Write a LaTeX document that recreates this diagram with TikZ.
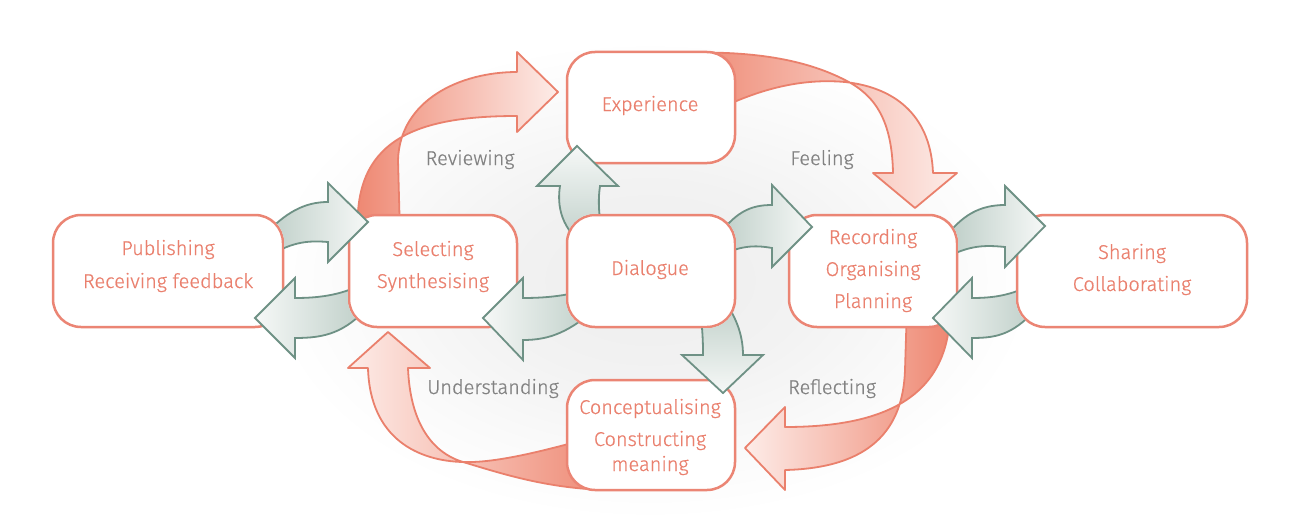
\documentclass[tikz,border=0pt]{standalone}
\usepackage{fontspec}
\setmainfont{Fira Sans Light}[FakeBold=0.6]
\definecolor{salDark}{RGB}{238,134,112}
\definecolor{salLight}{RGB}{253,236,232}
\definecolor{salLine}{RGB}{234,128,108}
\definecolor{boxLine}{RGB}{235,133,116}
\definecolor{salText}{RGB}{234,128,110}
\definecolor{grayText}{RGB}{130,130,130}
\definecolor{gDark}{RGB}{188,205,198}
\definecolor{gLight}{RGB}{246,248,247}
\definecolor{gLine}{RGB}{110,145,133}
\pgfdeclareradialshading{bgsoft}{\pgfpoint{0bp}{0bp}}{color(0bp)=(black!7); color(10bp)=(black!5); color(18bp)=(black!2); color(24bp)=(white); color(50bp)=(white)}
\begin{document}
\begin{tikzpicture}[x=1pt,y=-1pt,
  salarrow/.style={draw=salLine, line width=1.8pt, line join=round},
  garrow/.style={draw=gLine, line width=1.8pt, line join=miter},
  box/.style={draw=boxLine, line width=2.5pt, fill=white, rounded corners=28pt, inner sep=0pt},
  btxt/.style={text=salText, font=\fontsize{20}{24}\selectfont, text height=14pt, text depth=0pt, inner sep=0pt},
  gtxt/.style={text=grayText, font=\fontsize{20}{24}\selectfont, text height=14pt, text depth=0pt, inner sep=0pt}]
\useasboundingbox (0,0) rectangle (1300,519);
\fill[white] (0,0) rectangle (1300,519);
% soft background
\path[shading=bgsoft] (650,280) ellipse [x radius=400pt, y radius=250pt];

% salmon arrows
\path[salarrow, left color=salDark, right color=salLight] (358,235) .. controls (352,140) and (415,116) .. (517,116) -- (517,132) -- (558,92) -- (517,52) -- (517,72) .. controls (460,72) and (400,100) .. (398,160) -- (400,235) -- cycle;
\path[salarrow, left color=salDark, right color=salLight] (680,53) .. controls (760,50) and (810,62) .. (845,80) .. controls (875,95) and (892,120) .. (893,173) -- (873,173) -- (915,208) -- (957,173) -- (933,173) .. controls (931,120) and (900,88) .. (845,82) .. controls (800,78) and (760,90) .. (725,106) -- cycle;
\path[salarrow, left color=salLight, right color=salDark] (950,305) .. controls (952,400) and (880,427) .. (785,427) -- (785,407) -- (745,448) -- (785,490) -- (785,470) .. controls (870,468) and (903,430) .. (905,370) -- (907,305) -- cycle;
\path[salarrow, left color=salLight, right color=salDark] (590,438) .. controls (530,455) and (490,463) .. (463,462) .. controls (420,461) and (370,440) .. (368,368) -- (348,368) -- (388,332) -- (430,368) -- (408,368) .. controls (410,420) and (430,452) .. (463,462) .. controls (500,473) and (550,490) .. (615,490) -- cycle;

% boxes
\node[box, minimum width=168pt, minimum height=111pt] (exp) at (651,107.5) {};
\node[box, minimum width=230pt, minimum height=112pt] (pub) at (168,271) {};
\node[box, minimum width=168pt, minimum height=112pt] (sel) at (433,271) {};
\node[box, minimum width=168pt, minimum height=112pt] (dia) at (651,271) {};
\node[box, minimum width=168pt, minimum height=112pt] (rec) at (873,271) {};
\node[box, minimum width=230pt, minimum height=112pt] (sha) at (1132,271) {};
\node[box, minimum width=168pt, minimum height=110pt] (con) at (651,435) {};

% green arrows from Dialogue
\begin{scope}
\clip (-10,-10) -- (1310,-10) -- (1310,530) -- (-10,530) -- cycle [rounded corners=29pt] (565.8,271) -- (565.8,328.2) -- (736.2,328.2) -- (736.2,213.8) -- (565.8,213.8) -- cycle;
\path[garrow, top color=gLight, bottom color=gDark] (590,250) .. controls (560,230) and (557,205) .. (560,186) -- (537,186) -- (577,146) -- (618,186) -- (600,186) .. controls (598,200) and (598,215) .. (605,250) -- cycle;
\path[garrow, left color=gDark, right color=gLight] (715,240) .. controls (735,212) and (750,205) .. (772,205) -- (772,185) -- (812,227) -- (772,267) -- (772,248) .. controls (755,245) and (740,245) .. (715,258) -- cycle;
\path[garrow, top color=gDark, bottom color=gLight] (698,300) .. controls (703,325) and (703,345) .. (703,355) -- (682,355) -- (723,393) -- (763,355) -- (743,355) .. controls (743,335) and (736,315) .. (720,295) -- cycle;
\path[garrow, left color=gLight, right color=gDark] (600,285) .. controls (575,295) and (550,298) .. (523,298) -- (523,278) -- (483,318) -- (523,360) -- (523,340) .. controls (550,340) and (570,332) .. (600,305) -- cycle;
\end{scope}
% Publishing -> Selecting
\begin{scope}
\clip (-10,-10) -- (1310,-10) -- (1310,530) -- (-10,530) -- cycle [rounded corners=29pt] (51.8,271) -- (51.8,328.2) -- (284.2,328.2) -- (284.2,213.8) -- (51.8,213.8) -- cycle;
\path[garrow, left color=gDark, right color=gLight] (262,238) .. controls (285,212) and (305,202) .. (328,202) -- (328,183) -- (368,222) -- (328,262) -- (328,242) .. controls (305,240) and (290,243) .. (265,258) -- cycle;
\end{scope}
% Selecting -> Publishing
\begin{scope}
\clip (-10,-10) -- (1310,-10) -- (1310,530) -- (-10,530) -- cycle [rounded corners=29pt] (347.8,271) -- (347.8,328.2) -- (518.2,328.2) -- (518.2,213.8) -- (347.8,213.8) -- cycle;
\path[garrow, left color=gLight, right color=gDark] (370,280) .. controls (345,295) and (320,298) .. (295,298) -- (295,278) -- (255,318) -- (295,358) -- (295,338) .. controls (325,338) and (345,333) .. (370,305) -- cycle;
\end{scope}
% Recording -> Sharing
\begin{scope}
\clip (-10,-10) -- (1310,-10) -- (1310,530) -- (-10,530) -- cycle [rounded corners=29pt] (787.8,271) -- (787.8,328.2) -- (958.2,328.2) -- (958.2,213.8) -- (787.8,213.8) -- cycle;
\path[garrow, left color=gDark, right color=gLight] (945,238) .. controls (962,215) and (980,205) .. (1005,205) -- (1005,186) -- (1045,226) -- (1005,267) -- (1005,247) .. controls (985,245) and (970,245) .. (945,258) -- cycle;
\end{scope}
% Sharing -> Recording
\begin{scope}
\clip (-10,-10) -- (1310,-10) -- (1310,530) -- (-10,530) -- cycle [rounded corners=29pt] (1015.8,271) -- (1015.8,328.2) -- (1248.2,328.2) -- (1248.2,213.8) -- (1015.8,213.8) -- cycle;
\path[garrow, left color=gLight, right color=gDark] (1040,280) .. controls (1015,295) and (995,298) .. (972,298) -- (972,278) -- (933,318) -- (972,358) -- (972,338) .. controls (1000,338) and (1015,333) .. (1040,305) -- cycle;
\end{scope}

% texts
\node[btxt] (t-exp) at (650,104) {Experience};
\node[btxt] (t-pub1) at (168,248) {Publishing};
\node[btxt] (t-pub2) at (168,281) {Receiving feedback};
\node[btxt] (t-sel1) at (433,249) {Selecting};
\node[btxt] (t-sel2) at (433,281) {Synthesising};
\node[btxt] (t-dia) at (650,268) {Dialogue};
\node[btxt] (t-rec1) at (873,237) {Recording};
\node[btxt] (t-rec2) at (873,269) {Organising};
\node[btxt] (t-rec3) at (873,301) {Planning};
\node[btxt] (t-sha1) at (1132,252) {Sharing};
\node[btxt] (t-sha2) at (1132,284) {Collaborating};
\node[btxt] (t-con1) at (650,407) {Conceptualising};
\node[btxt] (t-con2) at (650,439) {Constructing};
\node[btxt] (t-con3) at (650,464) {meaning};
\node[gtxt] (l-rev) at (470,158) {Reviewing};
\node[gtxt] (l-fee) at (822,158) {Feeling};
\node[gtxt] (l-und) at (493,387) {Understanding};
\node[gtxt] (l-ref) at (832,387) {Reflecting};
\end{tikzpicture}
\end{document}
